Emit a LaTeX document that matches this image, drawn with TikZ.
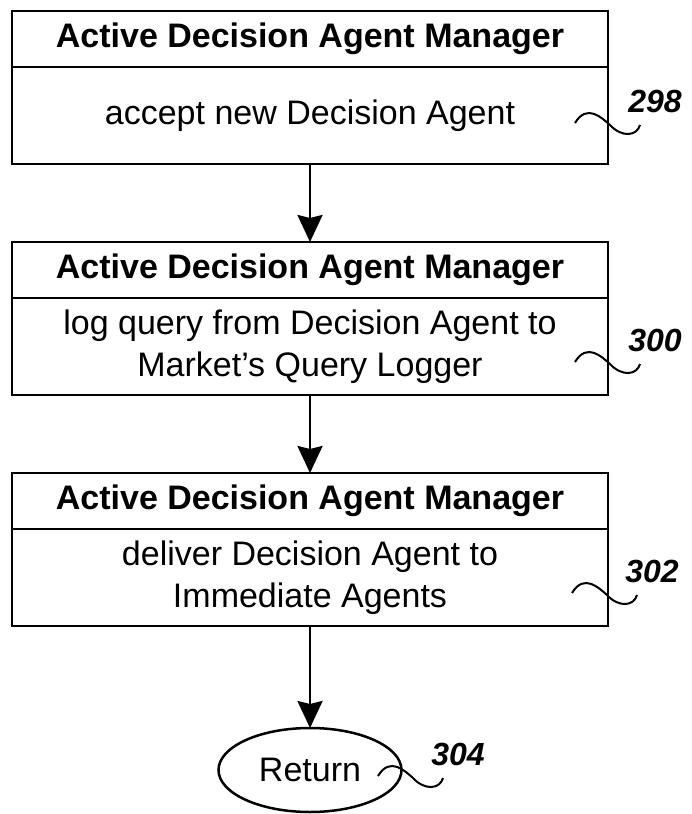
\documentclass[tikz,border=0pt]{standalone}
\usepackage{fontspec}
\setmainfont{Liberation Sans}
\usetikzlibrary{arrows.meta, positioning, shapes.geometric}
\tikzstyle{head} = [draw, line width=2.5pt, minimum width=596pt, minimum height=56pt, inner sep=0pt, outer sep=0pt, font=\fontsize{34}{40}\selectfont\bfseries]
\tikzstyle{body} = [draw, line width=2.5pt, minimum width=596pt, minimum height=97pt, inner sep=0pt, outer sep=0pt, align=center, font=\fontsize{34}{42}\selectfont]
\tikzstyle{refnum} = [font=\fontsize{32}{38}\selectfont\bfseries\itshape]
\tikzstyle{arrow} = [line width=2.5pt,-{Stealth[length=27pt,width=25pt,inset=3pt]}]
\newcommand{\leader}[1]{\draw[line width=2pt] ([shift={(-80pt,-22pt)}]#1.center) .. controls +(12pt,20pt) and +(-8pt,7pt) .. ++(35pt,-2pt) .. controls +(12pt,-13pt) and +(-3pt,-11pt) .. ++(30pt,0pt);}

\begin{document}
\begin{tikzpicture}[x=1pt, y=1pt, >=Stealth, thick]
\useasboundingbox (0,0) rectangle (691,-814);

% Define the boxes
\node[head] (head1) at (310,-39) {Active Decision Agent Manager};
\node[body, below=0pt of head1] (body1) {accept new Decision Agent};
\node[head, below=78pt of body1] (head2) {Active Decision Agent Manager};
\node[body, below=0pt of head2] (body2) {log query from Decision Agent to\\Market's Query Logger};
\node[head, below=78pt of body2] (head3) {Active Decision Agent Manager};
\node[body, below=0pt of head3] (body3) {deliver Decision Agent to\\Immediate Agents};
\node[draw, ellipse, line width=2.5pt, minimum width=183pt, minimum height=84pt, inner sep=0pt, outer sep=0pt, font=\fontsize{34}{40}\selectfont, below=102pt of body3] (ret) {Return};

% Add arrows between the boxes
\draw[arrow] (body1) -- (head2);
\draw[arrow] (body2) -- (head3);
\draw[arrow] (body3) -- (ret);

% Reference numbers
\node[refnum] (n298) at (655,-101) {298};
\node[refnum] (n300) at (655,-340) {300};
\node[refnum] (n302) at (652,-571) {302};
\node[refnum] (n304) at (458,-754) {304};
\leader{n298}
\leader{n300}
\leader{n302}
\leader{n304}

\end{tikzpicture}
\end{document}
